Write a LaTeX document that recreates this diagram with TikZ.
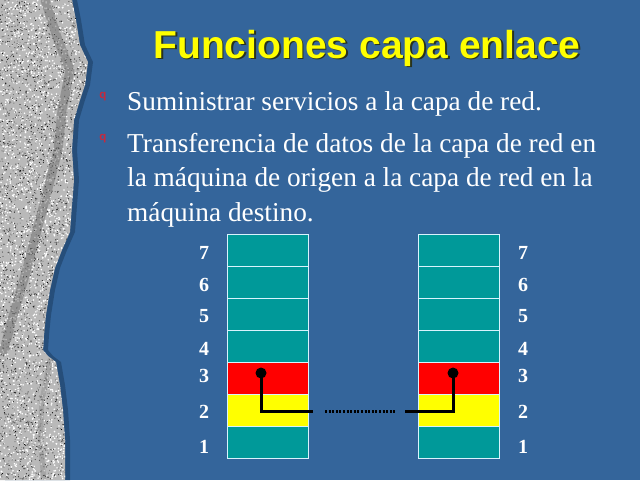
\documentclass[tikz,border=0pt]{standalone}
\usepackage{fontspec}
\setmainfont{Liberation Serif}
\newfontfamily\arialf{Liberation Sans}
\definecolor{bgblue}{RGB}{52,101,155}
\definecolor{shadowblue}{RGB}{38,78,122}
\definecolor{teal}{RGB}{0,153,153}
\definecolor{stone}{RGB}{185,185,185}
\definecolor{bulletred}{RGB}{200,40,60}
\definecolor{titleyellow}{RGB}{255,255,0}
\definecolor{titleshadow}{RGB}{40,50,30}
\begin{document}
\begin{tikzpicture}[x=1pt,y=-1pt,
  layer/.style={draw=white!85!cyan,line width=0.8pt,minimum width=81pt,minimum height=32pt,inner sep=0pt,outer sep=0pt},
  num/.style={text=white,font=\bfseries\fontsize{20}{20}\selectfont,inner sep=0pt},
  body/.style={text=white,font=\fontsize{27.3}{27.3}\selectfont,anchor=base west,inner sep=0pt},
  bul/.style={text=bulletred,font=\arialf\bfseries\fontsize{11.5}{11.5}\selectfont,inner sep=0pt},
  link/.style={line width=3pt,black},
  dotlink/.style={line width=3pt,black,dash pattern=on 2pt off 1.6pt}]
\useasboundingbox (0,0) rectangle (640,480);
\fill[bgblue] (0,0) rectangle (640,480);
% shadow of stone edge
\def\edge{(0,0) -- (72,0) -- (76,20) -- (80,45) -- (88,62) -- (85,85) -- (80,100) -- (74,120) -- (72,150) -- (74,180) -- (72,205) -- (70,232) -- (62,250) -- (55,268) -- (50,290) -- (46,315) -- (44,335) -- (43,350) -- (48,356) -- (56,362) -- (60,385) -- (63,410) -- (65,440) -- (65,480) -- (0,480) -- cycle}
\fill[shadowblue,xshift=5pt] \edge;
\fill[stone] \edge;
\begin{scope}
\clip \edge;
\pgfmathsetseed{7}
\foreach \i in {1,...,2500}{
  \pgfmathsetmacro{\px}{rnd*92}
  \pgfmathsetmacro{\py}{rnd*480}
  \fill[white] (\px,\py) circle (0.9pt);
}
\foreach \i in {1,...,3500}{
  \pgfmathsetmacro{\px}{rnd*92}
  \pgfmathsetmacro{\py}{rnd*480}
  \pgfmathsetmacro{\gg}{40+rnd*60}
  \fill[black!\gg] (\px,\py) circle (0.6pt);
}
\draw[line width=9pt,black!60,opacity=0.45,line cap=round,line join=round] (45,0) -- (58,40) -- (70,70) -- (62,110) -- (58,150) -- (45,200) -- (28,265) -- (12,320) -- (4,350);
\draw[line width=5pt,black!50,opacity=0.35,line cap=round] (50,360) -- (42,400) -- (40,440) -- (44,480);
\end{scope}
% title
\node[text=titleshadow,font=\arialf\bfseries\fontsize{39}{39}\selectfont,inner sep=0pt] (titleS) at (368.5,49.5) {Funciones capa enlace};
\node[text=titleyellow,font=\arialf\bfseries\fontsize{39}{39}\selectfont,inner sep=0pt] (title) at (367,48) {Funciones capa enlace};
% bullets and text
\node[bul] (b1) at (103,97) {q};
\node[body] (t1) at (127,110) {Suministrar servicios a la capa de red.};
\node[bul] (b2) at (103,139) {q};
\node[body] (t2) at (127,152) {Transferencia de datos de la capa de red en};
\node[body] (t3) at (127,186.5) {la máquina de origen a la capa de red en la};
\node[body] (t4) at (127,221) {máquina destino.};
% left stack
\node[layer,fill=teal]        (L7) at (267.5,250) {};
\node[layer,fill=teal]        (L6) at (267.5,282) {};
\node[layer,fill=teal]        (L5) at (267.5,314) {};
\node[layer,fill=teal]        (L4) at (267.5,346) {};
\node[layer,fill=red]         (L3) at (267.5,378) {};
\node[layer,fill=titleyellow] (L2) at (267.5,410) {};
\node[layer,fill=teal]        (L1) at (267.5,442) {};
% right stack
\node[layer,fill=teal]        (R7) at (458.5,250) {};
\node[layer,fill=teal]        (R6) at (458.5,282) {};
\node[layer,fill=teal]        (R5) at (458.5,314) {};
\node[layer,fill=teal]        (R4) at (458.5,346) {};
\node[layer,fill=red]         (R3) at (458.5,378) {};
\node[layer,fill=titleyellow] (R2) at (458.5,410) {};
\node[layer,fill=teal]        (R1) at (458.5,442) {};
% numbers
\foreach \n/\y in {7/253,6/285,5/316,4/349,3/376,2/412,1/447}{
  \node[num] (nl\n) at (204,\y) {\n};
  \node[num] (nr\n) at (523,\y) {\n};
}
% connectors
\coordinate (dl) at (261,373);
\coordinate (el) at (313,411);
\coordinate (dr) at (453,373);
\coordinate (er) at (405,411);
\coordinate (ds) at (325,411);
\coordinate (de) at (396,411);
\draw[link] (dl) |- (el);
\draw[link] (dr) |- (er);
\draw[dotlink] (ds) -- (de);
\fill[black] (dl) circle (5.5pt);
\fill[black] (dr) circle (5.5pt);
\end{tikzpicture}
\end{document}
